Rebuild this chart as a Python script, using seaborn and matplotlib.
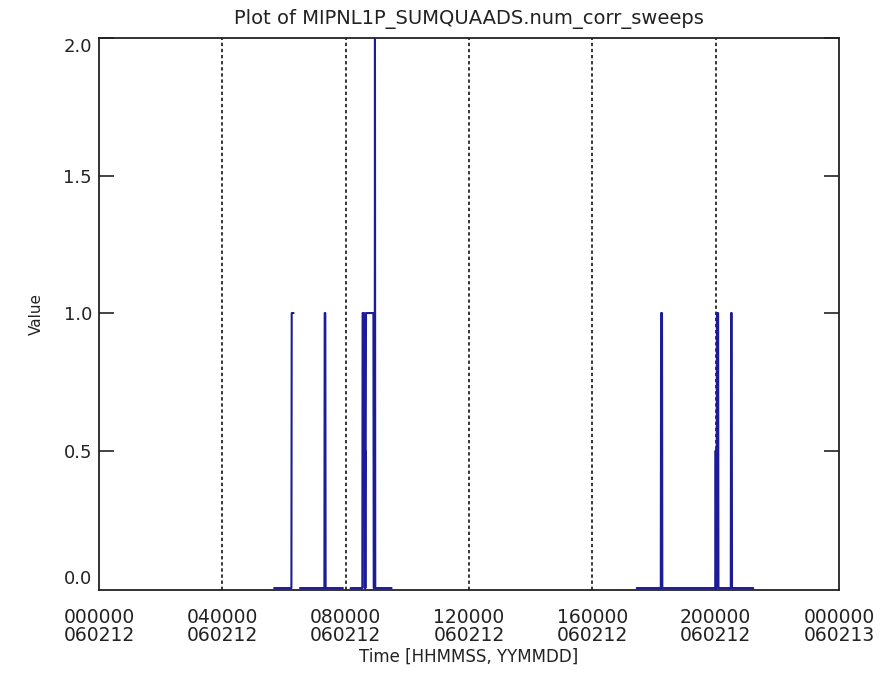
import numpy as np
import pandas as pd
import matplotlib
matplotlib.use("Agg")
import matplotlib.pyplot as plt
import seaborn as sns

sns.set_style("white")
plt.rcParams['font.family'] = ['DejaVu Sans']

# ---- data (time in hours of 2006-02-12, value) ----
seg1_t = [5.68, 6.24, 6.25, 6.31]
seg1_v = [0, 0, 1, 1]

seg2_t = [6.52, 7.31, 7.32, 7.34, 7.35, 7.91]
seg2_v = [0, 0, 1, 1, 0, 0]

seg3_t = [8.16, 8.54, 8.55, 8.60, 8.61, 8.62, 8.63, 8.64, 8.65, 8.66, 8.90, 8.91, 8.94, 8.95, 8.96, 9.49]
seg3_v = [0, 0, 1, 1, 0.5, 0, 0.5, 0, 0.5, 1, 1, 0, 0, 2, 0, 0]

seg4_t = [17.44, 18.22, 18.23, 18.26, 18.27, 19.99, 20.00, 20.01, 20.02, 20.03, 20.04, 20.08, 20.09,
          20.49, 20.50, 20.52, 20.53, 21.22]
seg4_v = [0, 0, 1, 1, 0, 0, 0.5, 0, 0.5, 0, 1, 1, 0,
          0, 1, 1, 0, 0]

segments = [(seg1_t, seg1_v), (seg2_t, seg2_v), (seg3_t, seg3_v), (seg4_t, seg4_v)]

grid_hours = [4, 8, 12, 16, 20]
tick_hours = [0, 4, 8, 12, 16, 20, 24]
tick_labels = ["000000\n060212", "040000\n060212", "080000\n060212", "120000\n060212",
               "160000\n060212", "200000\n060212", "000000\n060213"]
y_ticks = [0.0, 0.5, 1.0, 1.5, 2.0]
y_labels = ["0.0", "0.5", "1.0", "1.5", "2.0"]

rows = []
for i, (ts, vs) in enumerate(segments):
    for t, v in zip(ts, vs):
        rows.append({"t": t, "v": v, "seg": i})
df = pd.DataFrame(rows)

fig = plt.figure(figsize=(8.89, 6.87), dpi=100)
ax = fig.add_axes([99/889, 97/687, 740/889, 552/687])

for h in grid_hours:
    ax.axvline(h, color="black", lw=1.1, linestyle=(0, (2.2, 1.8)), zorder=1)

sns.lineplot(data=df, x="t", y="v", units="seg", estimator=None, sort=False,
             color="#1c1c96", lw=1.5, ax=ax, zorder=3)

ax.set_xlim(0, 24)
ax.set_ylim(-0.007, 2.0)
ax.set_xticks(tick_hours)
ax.set_xticklabels(tick_labels, fontsize=13.5, linespacing=0.92, color="#222222")
ax.set_yticks(y_ticks)
ax.set_yticklabels(y_labels, fontsize=13, color="#222222")
ax.tick_params(axis="x", length=0, pad=13)
ax.tick_params(axis="y", direction="in", length=11, width=1.2, color="#222222",
               left=True, right=True, pad=5)
lbls = ax.get_yticklabels()
lbls[0].set_va("bottom")
lbls[-1].set_va("top")
ax.yaxis.get_major_ticks()[0].tick1line.set_visible(False)
ax.yaxis.get_major_ticks()[0].tick2line.set_visible(False)

for s in ax.spines.values():
    s.set_color("#222222")
    s.set_linewidth(1.3)
    s.set_visible(True)

ax.set_title("Plot of MIPNL1P_SUMQUAADS.num_corr_sweeps", fontsize=14, pad=10, color="#222222")
ax.set_xlabel("Time [HHMMSS, YYMMDD]", fontsize=12, labelpad=2, color="#222222")
ax.set_ylabel("Value", fontsize=11, labelpad=14, color="#222222")

fig.savefig("out.png", dpi=100)
